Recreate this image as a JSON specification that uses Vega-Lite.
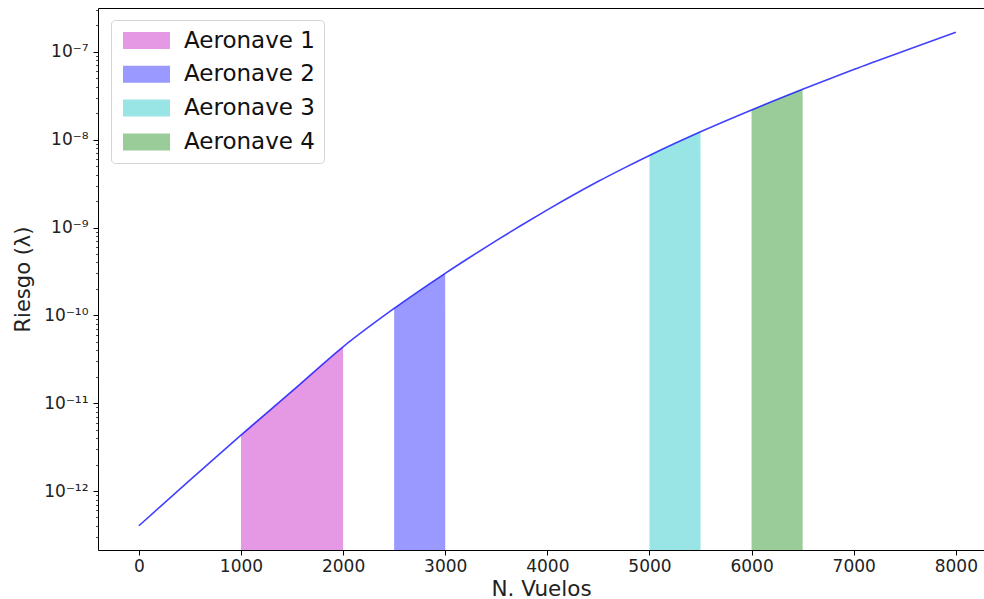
{
  "$schema": "https://vega.github.io/schema/vega-lite/v6.json",
  "autosize": {"type": "none"},
  "padding": {"left": 98, "top": 8, "right": 0, "bottom": 49},
  "width": 886,
  "height": 542,
  "background": "white",
  "config": {
    "font": "DejaVu Sans",
    "view": {"stroke": null},
    "axis": {"grid": false, "domainColor": "#000000", "tickColor": "#000000", "labelColor": "#222222", "titleColor": "#222222", "labelFont": "DejaVu Sans", "titleFont": "DejaVu Sans", "titleFontWeight": "normal"}
  },
  "datasets": {
    "curve": [
      {"vuelos": 0, "riesgo": 4.02e-13},
      {"vuelos": 500, "riesgo": 1.33e-12},
      {"vuelos": 1000, "riesgo": 4.33e-12},
      {"vuelos": 1500, "riesgo": 1.37e-11},
      {"vuelos": 2000, "riesgo": 4.39e-11},
      {"vuelos": 2500, "riesgo": 1.20e-10},
      {"vuelos": 3000, "riesgo": 3.01e-10},
      {"vuelos": 3250, "riesgo": 4.65e-10},
      {"vuelos": 3500, "riesgo": 7.10e-10},
      {"vuelos": 3750, "riesgo": 1.07e-9},
      {"vuelos": 4000, "riesgo": 1.59e-9},
      {"vuelos": 4250, "riesgo": 2.33e-9},
      {"vuelos": 4500, "riesgo": 3.36e-9},
      {"vuelos": 4750, "riesgo": 4.75e-9},
      {"vuelos": 5000, "riesgo": 6.62e-9},
      {"vuelos": 5500, "riesgo": 1.23e-8},
      {"vuelos": 6000, "riesgo": 2.18e-8},
      {"vuelos": 6500, "riesgo": 3.75e-8},
      {"vuelos": 7000, "riesgo": 6.30e-8},
      {"vuelos": 7500, "riesgo": 1.03e-7},
      {"vuelos": 8000, "riesgo": 1.67e-7}
    ],
    "fills": [
      {"vuelos": 1000, "riesgo": 4.33e-12, "aeronave": "Aeronave 1"},
      {"vuelos": 1500, "riesgo": 1.37e-11, "aeronave": "Aeronave 1"},
      {"vuelos": 2000, "riesgo": 4.39e-11, "aeronave": "Aeronave 1"},
      {"vuelos": 2500, "riesgo": 1.20e-10, "aeronave": "Aeronave 2"},
      {"vuelos": 3000, "riesgo": 3.01e-10, "aeronave": "Aeronave 2"},
      {"vuelos": 5000, "riesgo": 6.62e-9, "aeronave": "Aeronave 3"},
      {"vuelos": 5500, "riesgo": 1.23e-8, "aeronave": "Aeronave 3"},
      {"vuelos": 6000, "riesgo": 2.18e-8, "aeronave": "Aeronave 4"},
      {"vuelos": 6500, "riesgo": 3.75e-8, "aeronave": "Aeronave 4"}
    ]
  },
  "resolve": {"axis": {"x": "independent"}},
  "layer": [
    {
      "data": {"name": "fills"},
      "mark": {"type": "area", "clip": true, "opacity": 1},
      "encoding": {
        "x": {
          "field": "vuelos", "type": "quantitative",
          "scale": {"domain": [-400, 8276], "nice": false, "zero": false},
          "axis": {
            "orient": "bottom",
            "title": "N. Vuelos",
            "titleFontSize": 21.5,
            "titlePadding": 4,
            "values": [0, 1000, 2000, 3000, 4000, 5000, 6000, 7000, 8000],
            "format": "d",
            "labelFontSize": 17,
            "tickSize": 5,
            "labelPadding": 3,
            "domainWidth": 1
          }
        },
        "y": {
          "field": "riesgo", "type": "quantitative",
          "stack": null,
          "scale": {"type": "log", "domain": [2.13e-13, 3.16e-7], "nice": false},
          "axis": {
            "title": "Riesgo (λ)",
            "titleFontSize": 21,
            "titlePadding": 10,
            "labelFontSize": 17,
            "labelPadding": 5,
            "labelOverlap": false,
            "domainWidth": 1,
            "values": [3e-13, 4e-13, 5e-13, 6e-13, 7e-13, 8e-13, 9e-13,
                       1e-12, 2e-12, 3e-12, 4e-12, 5e-12, 6e-12, 7e-12, 8e-12, 9e-12,
                       1e-11, 2e-11, 3e-11, 4e-11, 5e-11, 6e-11, 7e-11, 8e-11, 9e-11,
                       1e-10, 2e-10, 3e-10, 4e-10, 5e-10, 6e-10, 7e-10, 8e-10, 9e-10,
                       1e-9, 2e-9, 3e-9, 4e-9, 5e-9, 6e-9, 7e-9, 8e-9, 9e-9,
                       1e-8, 2e-8, 3e-8, 4e-8, 5e-8, 6e-8, 7e-8, 8e-8, 9e-8,
                       1e-7, 2e-7, 3e-7],
            "tickSize": {"condition": {"test": "abs(log(datum.value)/LN10 - round(log(datum.value)/LN10)) < 0.001", "value": 5}, "value": 2.5},
            "tickWidth": {"condition": {"test": "abs(log(datum.value)/LN10 - round(log(datum.value)/LN10)) < 0.001", "value": 1}, "value": 0.7},
            "labelExpr": "abs(log(datum.value)/LN10 - round(log(datum.value)/LN10)) < 0.001 ? '10⁻' + (round(log(datum.value)/LN10) == -7 ? '⁷' : round(log(datum.value)/LN10) == -8 ? '⁸' : round(log(datum.value)/LN10) == -9 ? '⁹' : round(log(datum.value)/LN10) == -10 ? '¹⁰' : round(log(datum.value)/LN10) == -11 ? '¹¹' : '¹²') : ''"
          }
        },
        "y2": {"datum": 1e-14},
        "color": {
          "field": "aeronave", "type": "nominal",
          "scale": {"domain": ["Aeronave 1", "Aeronave 2", "Aeronave 3", "Aeronave 4"], "range": ["#e599e5", "#9999ff", "#99e5e5", "#99cc99"]},
          "legend": {
            "title": null,
            "orient": "none",
            "legendX": 13,
            "legendY": 12,
            "labelFontSize": 23,
            "labelFont": "DejaVu Sans",
            "labelColor": "#111111",
            "symbolType": "M-1,-1H4.53V1H-1Z",
            "symbolSize": 289,
            "symbolStrokeWidth": 0,
            "symbolOpacity": 1,
            "labelOffset": 41,
            "rowPadding": 9.8,
            "padding": 9,
            "fillColor": "white",
            "strokeColor": "#d4d4d4",
            "cornerRadius": 4
          }
        }
      }
    },
    {
      "data": {"name": "curve"},
      "mark": {"type": "line", "color": "#0000ff", "opacity": 0.75, "strokeWidth": 1.6, "clip": true, "interpolate": "monotone"},
      "encoding": {
        "x": {
          "field": "vuelos", "type": "quantitative",
          "scale": {"domain": [-400, 8276], "nice": false, "zero": false},
          "axis": {"orient": "top", "title": null, "labels": false, "ticks": false, "domainWidth": 1}
        },
        "y": {"field": "riesgo", "type": "quantitative"}
      }
    }
  ]
}
